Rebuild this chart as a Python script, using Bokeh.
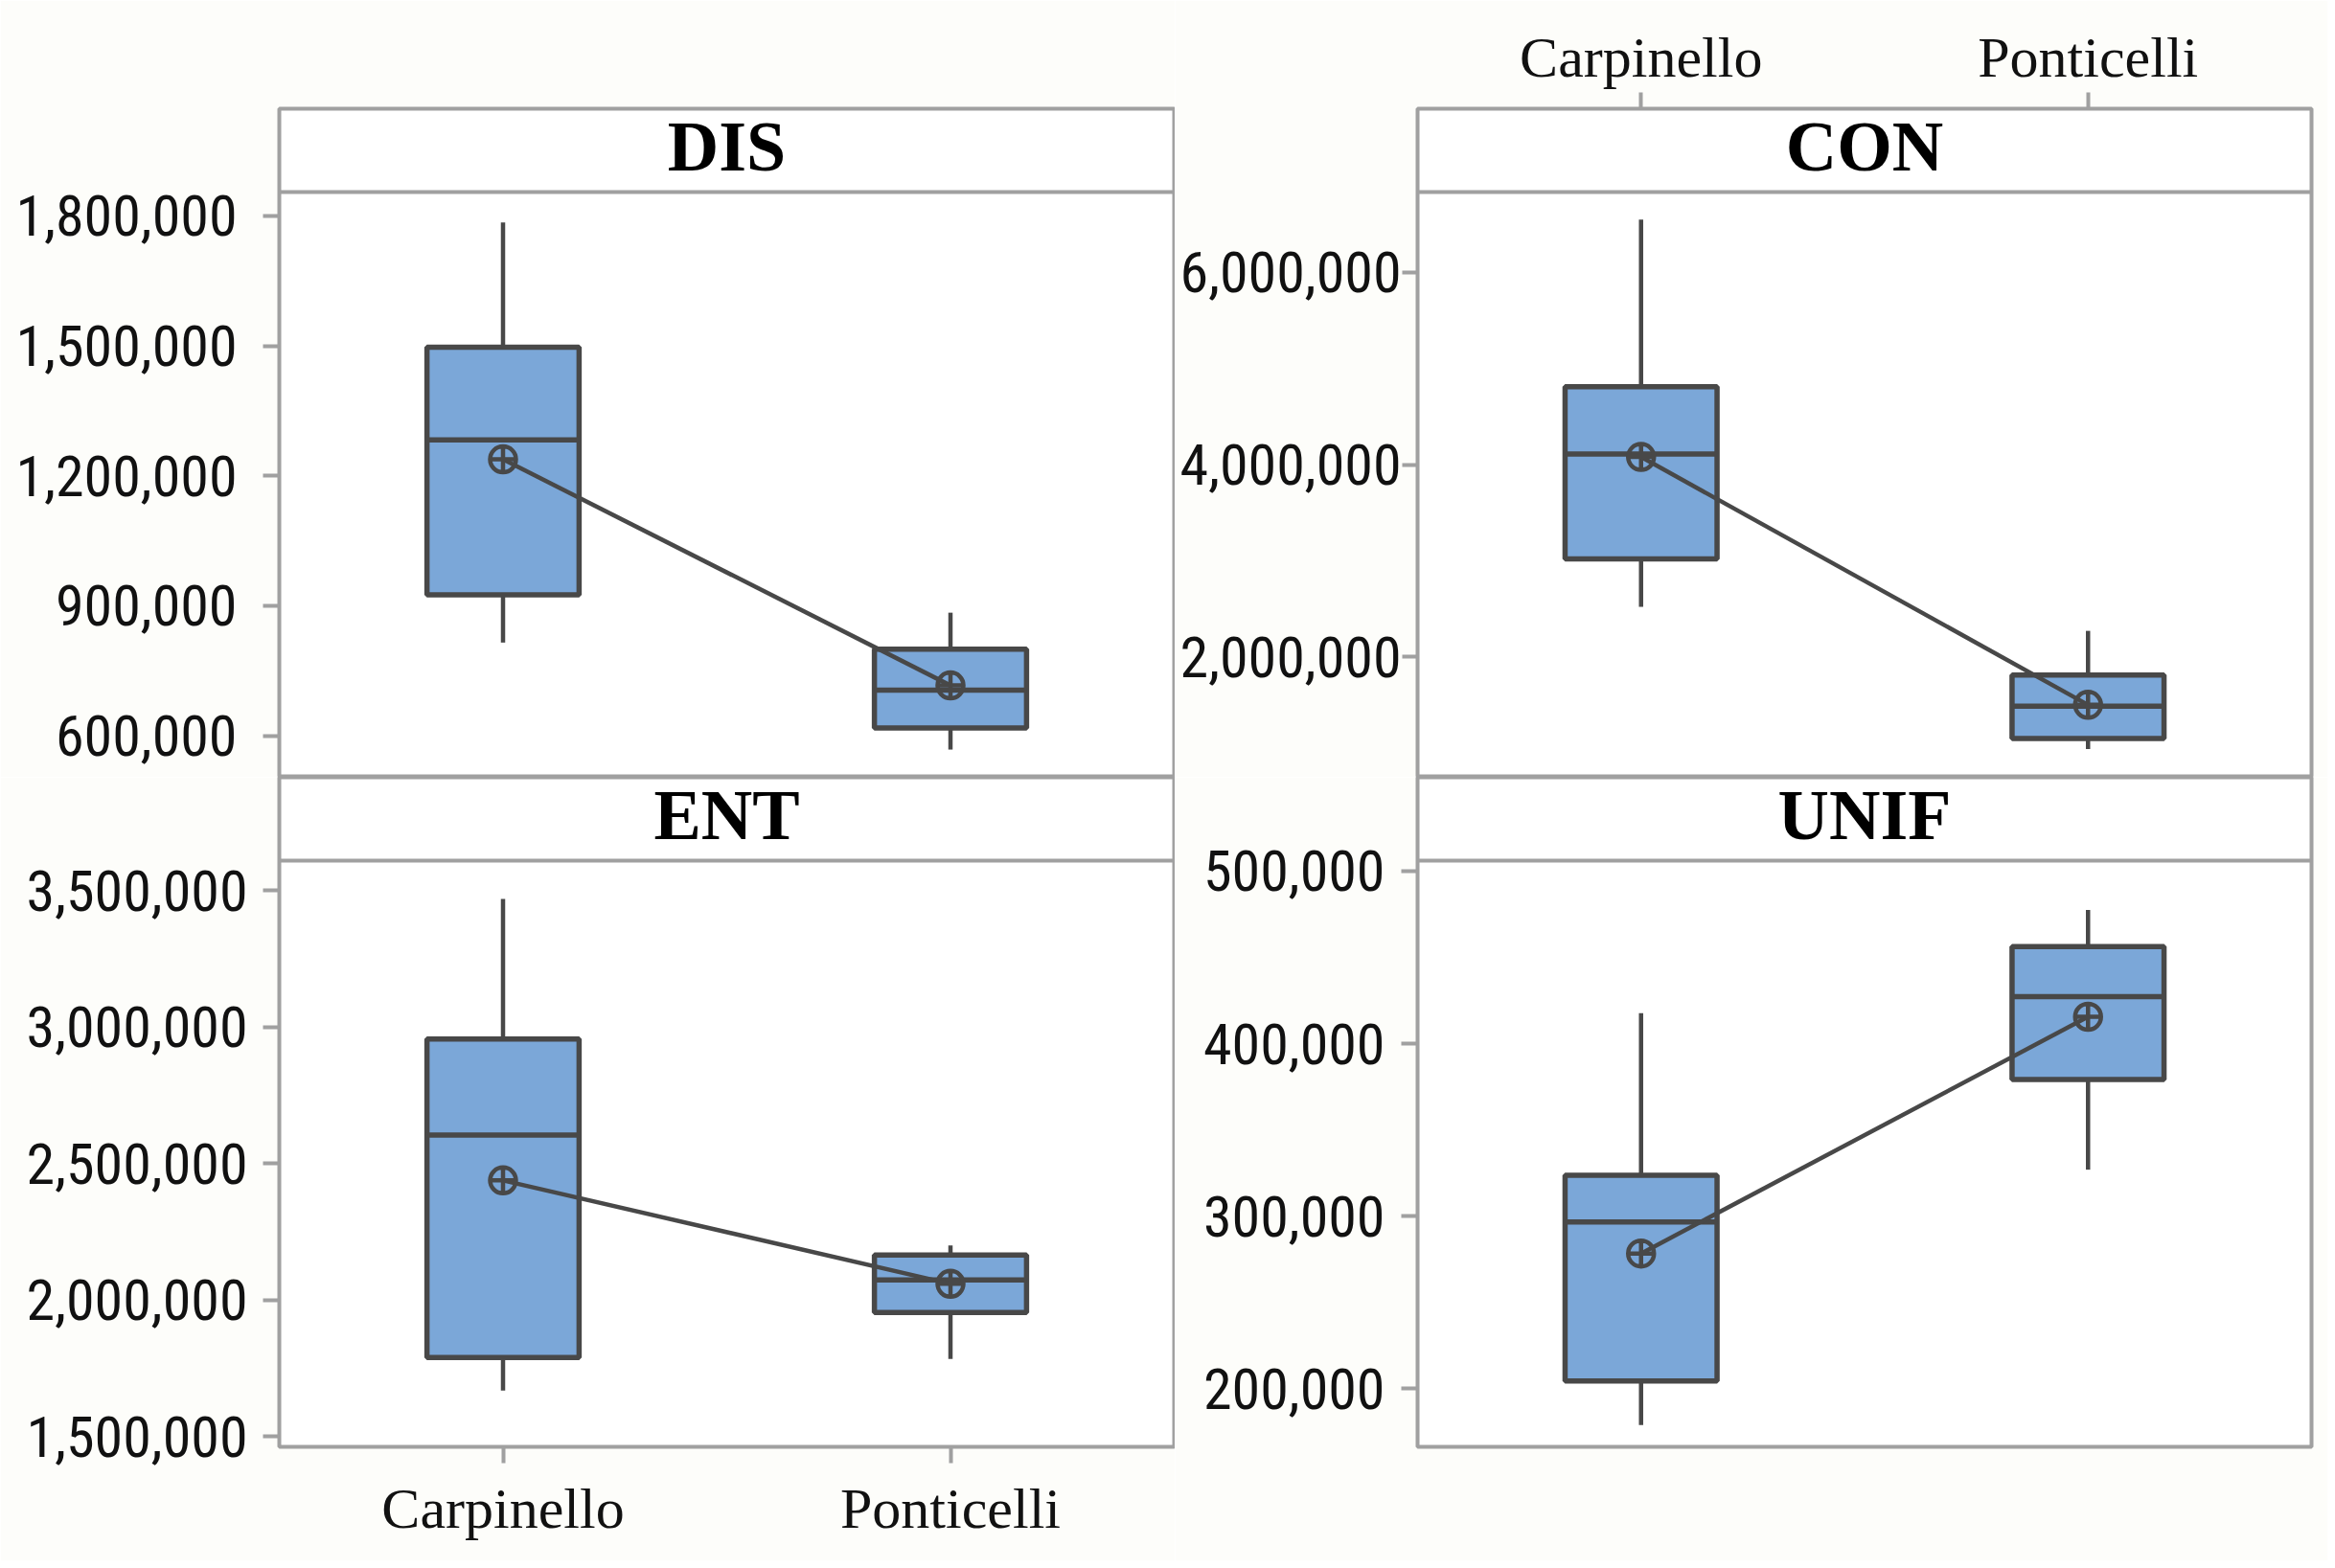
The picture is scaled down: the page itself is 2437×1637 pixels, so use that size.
from bokeh.plotting import figure
from bokeh.layouts import column, row
from bokeh.models import (Range1d, FactorRange, FixedTicker, NumeralTickFormatter,
                          Span, Label, ColumnDataSource)
from bokeh.embed import file_html
from bokeh.resources import INLINE

# ---------------- data ----------------
sites = ["Carpinello", "Ponticelli"]

dis_whisker_low = [815000, 568000]
dis_q1 = [925000, 618000]
dis_median = [1283000, 705000]
dis_q3 = [1497000, 800000]
dis_whisker_high = [1785000, 884000]
dis_mean = [1238000, 716000]
dis_ticks = [600000, 900000, 1200000, 1500000, 1800000]

con_whisker_low = [2520000, 1040000]
con_q1 = [3020000, 1150000]
con_median = [4110000, 1485000]
con_q3 = [4810000, 1810000]
con_whisker_high = [6550000, 2270000]
con_mean = [4080000, 1500000]
con_ticks = [2000000, 4000000, 6000000]

ent_whisker_low = [1668000, 1784000]
ent_q1 = [1789000, 1954000]
ent_median = [2604000, 2073000]
ent_q3 = [2956000, 2165000]
ent_whisker_high = [3469000, 2200000]
ent_mean = [2438000, 2059000]
ent_ticks = [1500000, 2000000, 2500000, 3000000, 3500000]

unif_whisker_low = [179000, 327000]
unif_q1 = [204500, 379300]
unif_median = [296700, 427200]
unif_q3 = [323700, 456300]
unif_whisker_high = [417700, 477500]
unif_mean = [278400, 415600]
unif_ticks = [200000, 300000, 400000, 500000]

# ---------------- style ----------------
BOX_FILL = "#7BA7D8"
DARK = "#484848"
FRAME = "#A0A0A0"
BORDER_BG = "#FDFDFA"
TICK_FONT = "Roboto Condensed"
STRIP_PX = 87.0
PLOT_PX = 611.0


def make_panel(title, wlo, q1, med, q3, whi, mean, ticks, ylo, yhi,
               width, height, mb_left, mb_right, mb_top, mb_bottom,
               xaxis_loc, ylabel_standoff, ytick_out):
    top = yhi + (yhi - ylo) * STRIP_PX / PLOT_PX
    p = figure(width=width, height=height,
               x_range=FactorRange(*sites, range_padding=0),
               y_range=Range1d(ylo, top),
               x_axis_location=xaxis_loc, y_axis_location="left",
               output_backend="svg", toolbar_location=None,
               min_border_left=mb_left, min_border_right=mb_right,
               min_border_top=mb_top, min_border_bottom=mb_bottom,
               background_fill_color="white", border_fill_color=BORDER_BG,
               outline_line_color=FRAME, outline_line_width=4)
    p.xgrid.visible = False
    p.ygrid.visible = False

    src = ColumnDataSource(dict(site=sites, wlo=wlo, q1=q1, med=med,
                                q3=q3, whi=whi, mean=mean))
    # whiskers
    p.segment(x0="site", y0="q3", x1="site", y1="whi", source=src,
              line_color=DARK, line_width=4.5)
    p.segment(x0="site", y0="wlo", x1="site", y1="q1", source=src,
              line_color=DARK, line_width=4.5)
    # boxes
    p.vbar(x="site", bottom="q1", top="q3", width=0.34, source=src,
           fill_color=BOX_FILL, line_color=DARK, line_width=5.5)
    # medians
    p.vbar(x="site", bottom="med", top="med", width=0.34, source=src,
           fill_color=None, line_color=DARK, line_width=5.5)
    # mean connect line + markers
    p.line(x="site", y="mean", source=src, line_color=DARK, line_width=4.5)
    p.scatter(x="site", y="mean", source=src, marker="circle_cross",
              size=27, line_color=DARK, line_width=4.5, fill_color=None)

    # strip
    p.add_layout(Span(location=yhi, dimension="width", line_color=FRAME,
                      line_width=4))
    p.add_layout(Label(x=1.0, y=yhi + (yhi - ylo) * 48.0 / PLOT_PX,
                       text=title, text_align="center",
                       text_baseline="middle",
                       text_font="Liberation Serif", text_font_style="bold",
                       text_font_size="74px", text_color="#000000"))

    # y axis
    ya = p.yaxis[0]
    ya.ticker = FixedTicker(ticks=ticks)
    ya.formatter = NumeralTickFormatter(format="0,0")
    ya.axis_line_color = None
    ya.minor_tick_line_color = None
    ya.major_tick_line_color = FRAME
    ya.major_tick_line_width = 4
    ya.major_tick_out = ytick_out
    ya.major_tick_in = 0
    ya.major_label_standoff = ylabel_standoff
    ya.major_label_text_font = TICK_FONT
    ya.major_label_text_font_size = "60px"
    ya.major_label_text_color = "#111111"

    if xaxis_loc is not None:
        xa = p.xaxis[0]
        xa.axis_line_color = None
        xa.minor_tick_line_color = None
        xa.major_tick_line_color = FRAME
        xa.major_tick_line_width = 4
        xa.major_tick_out = 17
        xa.major_tick_in = 0
        xa.major_label_standoff = 14 if xaxis_loc == "below" else 4
        xa.major_label_text_font = "Liberation Serif"
        xa.major_label_text_font_size = "60px"
        xa.major_label_text_color = "#111111"
        xa.major_label_orientation = "horizontal"
    return p


LW, RW = 1226, 1203
H1, H2 = 811, 818

p_dis = make_panel("DIS", dis_whisker_low, dis_q1, dis_median, dis_q3,
                   dis_whisker_high, dis_mean, dis_ticks, 504000, 1855000,
                   LW, H1, 291, 1, 113, 0, None, 27, 17)
p_con = make_panel("CON", con_whisker_low, con_q1, con_median, con_q3,
                   con_whisker_high, con_mean, con_ticks, 746000, 6837000,
                   RW, H1, 253, 17, 113, 0, "above", 1, 16)
p_ent = make_panel("ENT", ent_whisker_low, ent_q1, ent_median, ent_q3,
                   ent_whisker_high, ent_mean, ent_ticks, 1462000, 3609000,
                   LW, H2, 291, 1, 0, 119, "below", 16, 17)
p_unif = make_panel("UNIF", unif_whisker_low, unif_q1, unif_median, unif_q3,
                    unif_whisker_high, unif_mean, unif_ticks, 166400, 506000,
                    RW, H2, 253, 17, 0, 119, None, 17, 17)

layout = column(row(p_dis, p_con), row(p_ent, p_unif))

open("out.html", "w").write(file_html(layout, INLINE))
